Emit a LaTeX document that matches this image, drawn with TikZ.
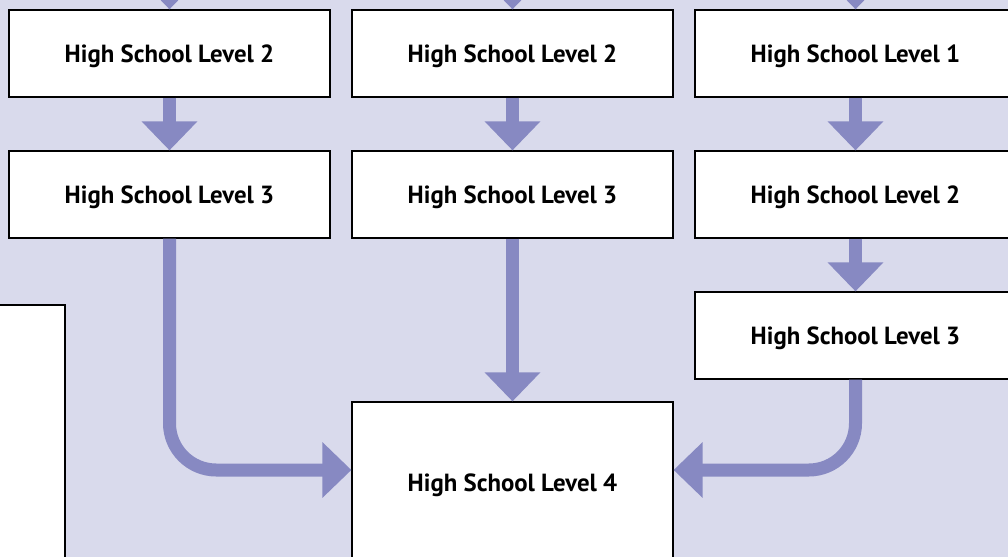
\documentclass[tikz,border=0pt]{standalone}
\usepackage{fontspec}
\setmainfont{PT Sans}
\usetikzlibrary{arrows.meta}
\definecolor{bgc}{HTML}{D9DAEC}
\definecolor{arrc}{HTML}{8789C2}
\begin{document}
\begin{tikzpicture}[x=0.75pt,y=-0.75pt,
  box/.style={draw=black,line width=0.9pt,fill=white,minimum width=240.75pt,minimum height=65.25pt,inner sep=0pt,text height=14pt,text depth=0pt,font=\bfseries\fontsize{18.6}{22}\selectfont},
  arr/.style={draw=arrc,line width=9.75pt,-{Triangle[length=21.75pt,width=40.5pt]}},
  elbow/.style={arr,rounded corners=35pt}]
\useasboundingbox (0,0) rectangle (1008,557);
\clip (0,0) rectangle (1008,557);
\fill[bgc] (0,0) rectangle (1008,557);
% left partial box
\draw[line width=0.9pt,fill=white] (-20,305) rectangle (65,600);
% nodes
\node[box] (a1) at (169.5,53.5) {High School Level 2};
\node[box] (a2) at (169.5,194.5) {High School Level 3};
\node[box] (b1) at (512.5,53.5) {High School Level 2};
\node[box] (b2) at (512.5,194.5) {High School Level 3};
\node[box] (c1) at (855.5,53.5) {High School Level 1};
\node[box] (c2) at (855.5,194.5) {High School Level 2};
\node[box] (c3) at (855.5,335.5) {High School Level 3};
\node[box,minimum height=120pt] (d) at (512.5,482) {High School Level 4};
% free ends above
\coordinate (ta) at (169.5,-40);
\coordinate (tb) at (512.5,-40);
\coordinate (tc) at (855.5,-40);
% connectors
\draw[arr] (ta) -- (a1.north);
\draw[arr] (tb) -- (b1.north);
\draw[arr] (tc) -- (c1.north);
\draw[arr] (a1.south) -- (a2.north);
\draw[arr] (b1.south) -- (b2.north);
\draw[arr] (c1.south) -- (c2.north);
\draw[arr] (c2.south) -- (c3.north);
\draw[arr] (b2.south) -- (d.north);
\draw[elbow] (a2.south) |- ([yshift=9pt]d.west);
\draw[elbow] (c3.south) |- ([yshift=9pt]d.east);
\end{tikzpicture}
\end{document}
